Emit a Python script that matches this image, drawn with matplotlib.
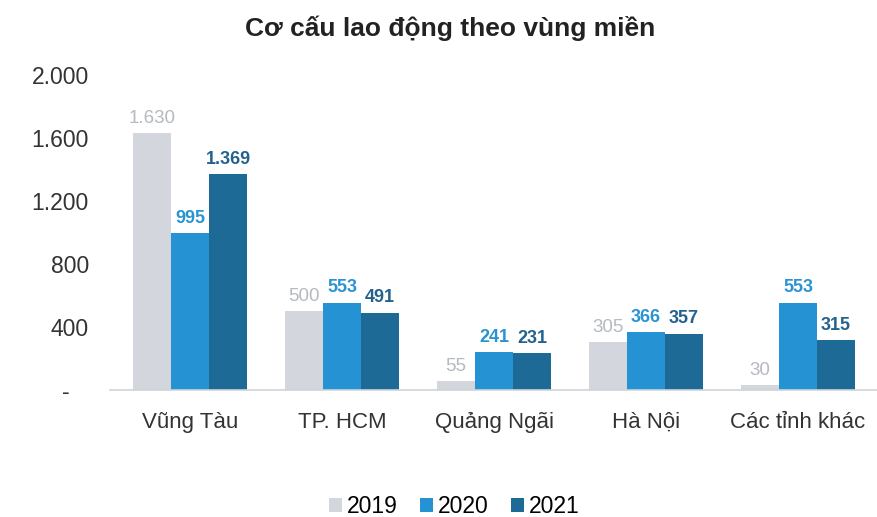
import matplotlib.pyplot as plt
import numpy as np

regions = ['Vũng Tàu', 'TP. HCM', 'Quảng Ngãi', 'Hà Nội', 'Các tỉnh khác']
years = ['2019', '2020', '2021']
v2019 = [1630, 500, 55, 305, 30]
v2020 = [995, 553, 241, 366, 553]
v2021 = [1369, 491, 231, 357, 315]
yticks = [0, 400, 800, 1200, 1600, 2000]

bar_colors = ['#d3d6dc', '#2593d3', '#1d6a96']
label_colors = ['#b5b9c0', '#2a93d2', '#24628e']

def fmt(v):
    if v == 0:
        return '-   '
    return '{:,}'.format(v).replace(',', '.')

plt.rcParams['font.family'] = ['Liberation Sans', 'DejaVu Sans']
fig = plt.figure(figsize=(8.77, 5.17), dpi=100)
ax = fig.add_axes([0.125, 0.246, 0.875, 0.609])

x = np.arange(len(regions))
w = 0.25
for i, (vals, c, lc) in enumerate(zip([v2019, v2020, v2021], bar_colors, label_colors)):
    pos = x + (i - 1) * w
    ax.bar(pos, vals, width=w, color=c, label=years[i])
    for px, v in zip(pos, vals):
        ax.text(px, v + 40, fmt(v), ha='center', va='bottom',
                fontsize=13.5 if i == 0 else 13, color=lc,
                fontweight='normal' if i == 0 else 'bold')

ax.set_xlim(-0.53, 4.52)
ax.set_ylim(0, 2000)
ax.set_yticks(yticks)
ax.set_yticklabels([fmt(t) for t in yticks], fontsize=16.5, color='#333333')
ax.set_xticks(x)
ax.set_xticklabels(regions, fontsize=16, color='#333333')
ax.tick_params(axis='x', length=0, pad=16)
ax.tick_params(axis='y', length=0, pad=15)
for s in ['top', 'right', 'left']:
    ax.spines[s].set_visible(False)
ax.spines['bottom'].set_color('#d0d3d8')
ax.spines['bottom'].set_linewidth(1.2)

fig.text(0.513, 0.945, 'Cơ cấu lao động theo vùng miền', ha='center', va='center',
         fontsize=19, fontweight='bold', color='#222222')

fig.legend(loc='center', bbox_to_anchor=(0.518, 0.02), ncol=3, frameon=False,
           fontsize=16.5, handlelength=0.55, handleheight=0.55, handletextpad=0.2,
           columnspacing=1.0)

fig.savefig('out.png', dpi=100)
